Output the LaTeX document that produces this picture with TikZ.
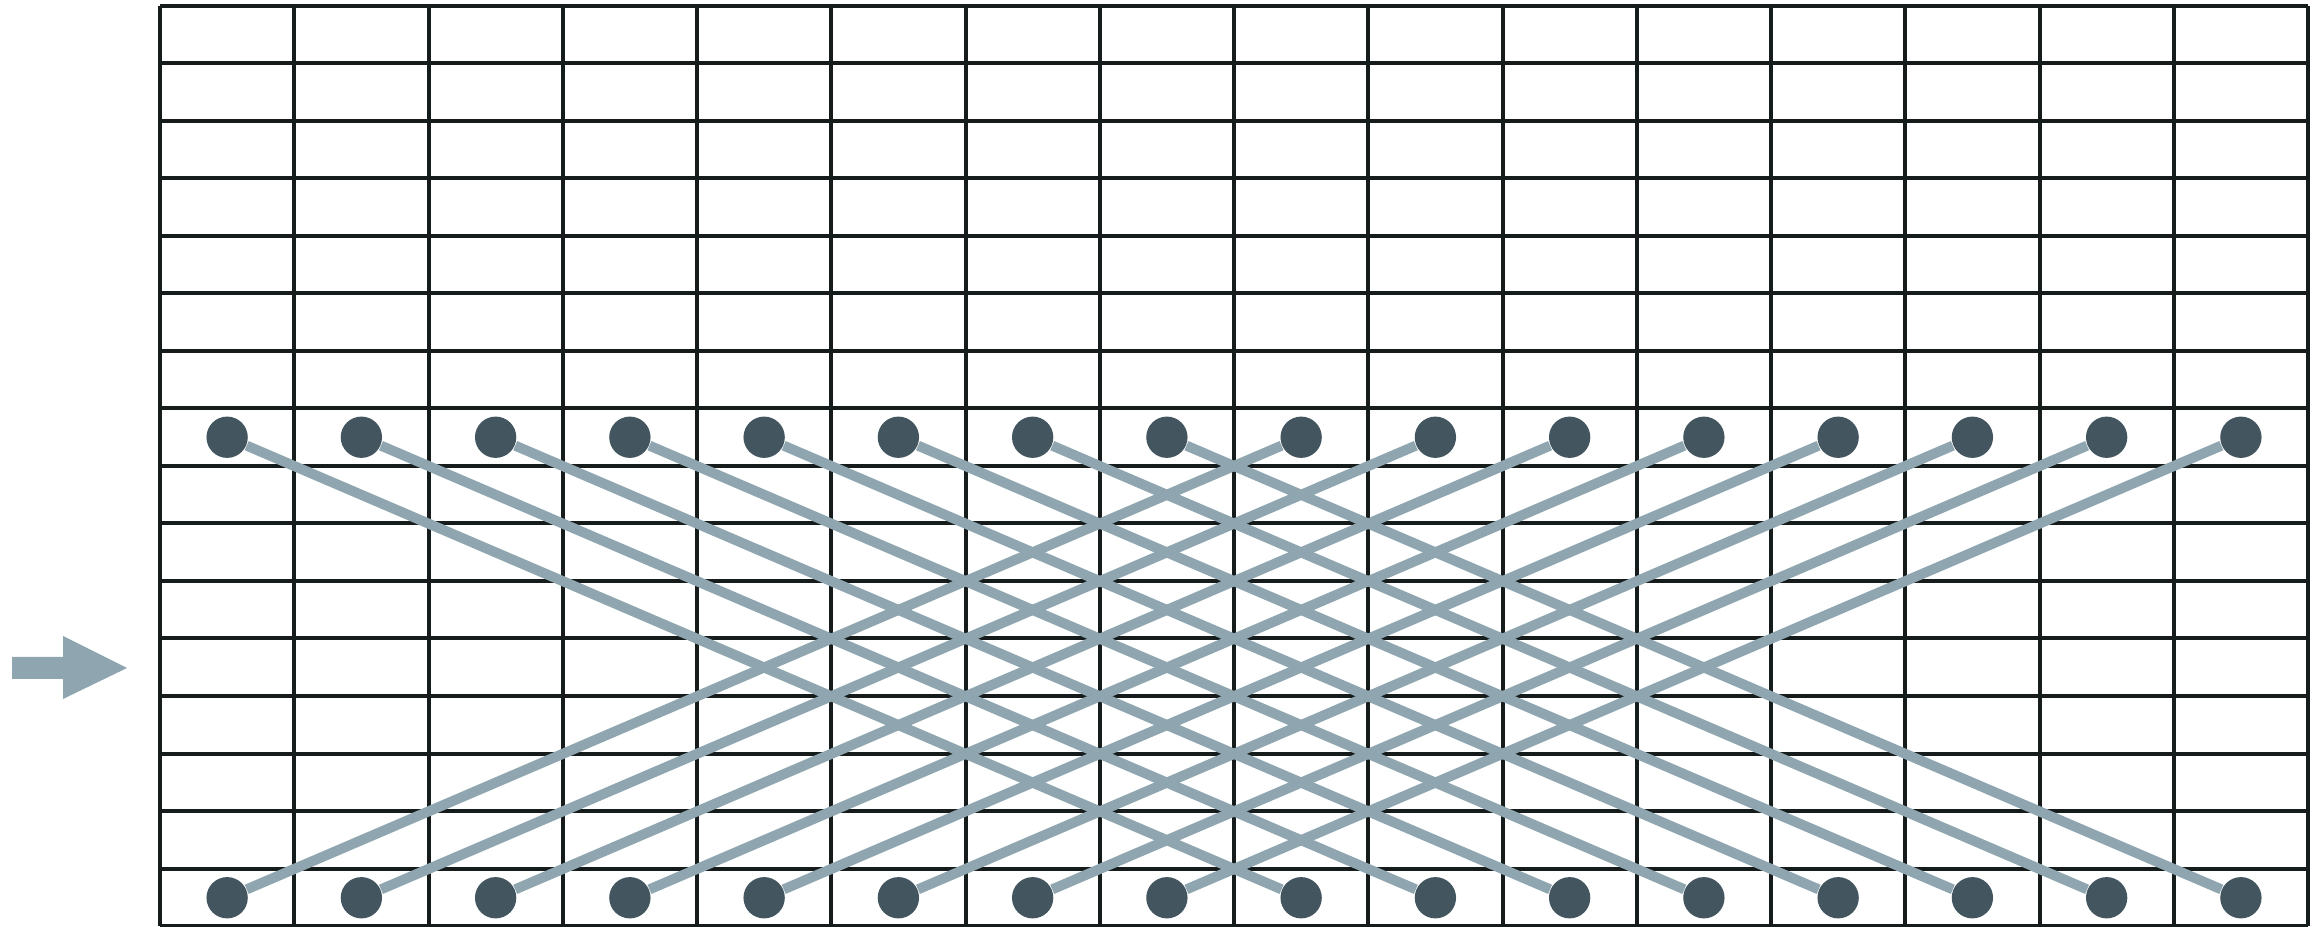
\documentclass[tikz,border=0pt]{standalone}
\usetikzlibrary{backgrounds}
\definecolor{gridc}{HTML}{161C1C}
\definecolor{dotc}{HTML}{43555F}
\definecolor{linkc}{HTML}{8FA6B0}
\tikzset{
  gridline/.style={draw=gridc, line width=1.2pt},
  dotnode/.style={circle, fill=dotc, draw=none, minimum size=12.4pt, inner sep=0pt},
  link/.style={draw=linkc, line width=3pt},
  arrowshape/.style={fill=linkc, draw=none}
}
\begin{document}
\begin{tikzpicture}[x=0.3pt, y=-0.3pt]
\useasboundingbox (0,0) rectangle (2323,927);
% grid
\begin{pgfonlayer}{background}
\foreach \i in {0,...,16} {
  \draw[gridline] ({160+134.25*\i},6) -- ({160+134.25*\i},926);
  \draw[gridline] (160,{6+57.5*\i}) -- (2308,{6+57.5*\i});
}
\end{pgfonlayer}
% dots
\foreach \i in {1,...,16} {
  \node[dotnode] (t\i) at ({160+134.25*(\i-0.5)},437.25) {};
  \node[dotnode] (b\i) at ({160+134.25*(\i-0.5)},897.75) {};
}
% connectors
\foreach \i [evaluate=\i as \j using {int(\i+8)}] in {1,...,8} {
  \draw[link] (t\i) -- (b\j);
  \draw[link] (t\j) -- (b\i);
}
% arrow
\coordinate (arrowtip) at (127,668);
\fill[arrowshape] (12,657) -- (63,657) -- (63,636) -- (arrowtip) -- (63,699) -- (63,679) -- (12,679) -- cycle;
\end{tikzpicture}
\end{document}
